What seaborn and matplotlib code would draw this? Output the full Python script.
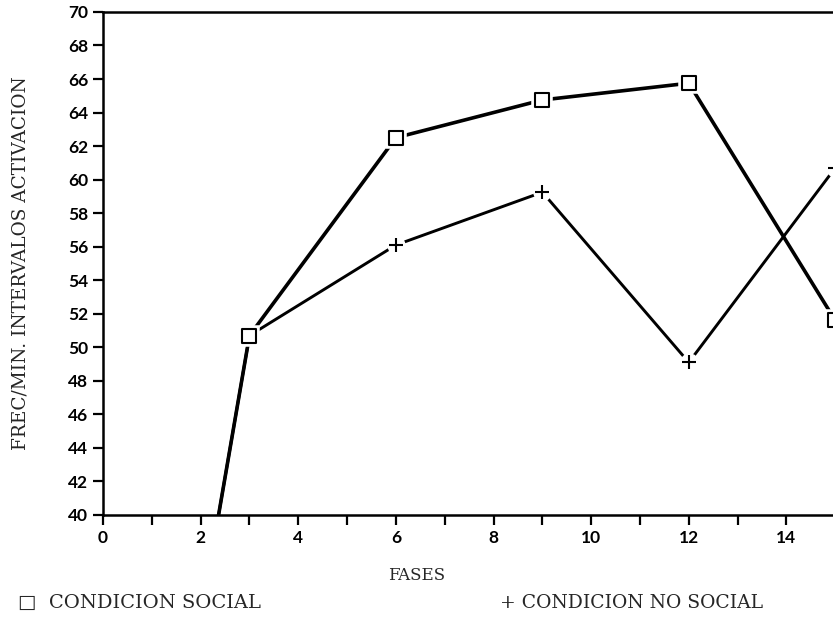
import pandas as pd
import matplotlib.pyplot as plt
import seaborn as sns

# Datos
fases = [0, 3, 6, 9, 12, 15]
social = [0, 50.7, 62.5, 64.75, 65.75, 51.6]
no_social = [0, 50.7, 56.1, 59.25, 49.1, 60.7]
series = ['CONDICION SOCIAL', 'CONDICION NO SOCIAL']

df = pd.DataFrame({
    'fase': fases * 2,
    'valor': social + no_social,
    'serie': [series[0]] * len(fases) + [series[1]] * len(fases),
})

sns.set_style('ticks')
serif = ['DejaVu Serif', 'DejaVu Sans']

fig = plt.figure(figsize=(8.33, 6.18), dpi=100)
ax = fig.add_axes([0.1237, 0.1667, 0.9376, 0.814])

# Lineas
sns.lineplot(data=df[df['serie'] == series[0]], x='fase', y='valor', ax=ax,
             color='black', linewidth=2.6, legend=False)
sns.lineplot(data=df[df['serie'] == series[1]], x='fase', y='valor', ax=ax,
             color='black', linewidth=2.1, legend=False)

# Hueco blanco alrededor de los marcadores
sns.scatterplot(data=df[df['serie'] == series[1]], x='fase', y='valor', ax=ax,
                marker='o', s=150, color='white', edgecolor='white', legend=False, zorder=3)
sns.scatterplot(data=df[df['serie'] == series[0]], x='fase', y='valor', ax=ax,
                marker='s', s=190, color='white', edgecolor='white', legend=False, zorder=3)
# Marcadores
sns.scatterplot(data=df[df['serie'] == series[1]], x='fase', y='valor', ax=ax,
                marker='+', s=100, color='black', linewidth=1.5, legend=False, zorder=4)
sns.scatterplot(data=df[df['serie'] == series[0]], x='fase', y='valor', ax=ax,
                marker='s', s=100, facecolor='white', edgecolor='black', linewidth=1.5,
                legend=False, zorder=4)

ax.set_xlim(0, 16)
ax.set_ylim(40, 70)
ax.set_xticks(range(0, 15, 2))
ax.set_xticks(range(1, 16, 2), minor=True)
ax.set_yticks(range(40, 71, 2))
ax.tick_params(axis='both', which='both', direction='out', length=7, width=1.6,
               labelsize=12.5, colors='black')
for lab in ax.get_xticklabels() + ax.get_yticklabels():
    lab.set_fontweight('bold')
    lab.set_family('Lato')

for s in ['left', 'bottom', 'top']:
    ax.spines[s].set_linewidth(1.8)
    ax.spines[s].set_color('black')
ax.spines['right'].set_visible(False)

ax.set_xlabel('')
ax.set_ylabel('FREC/MIN. INTERVALOS ACTIVACION', family=serif, fontsize=13.3)
ax.yaxis.set_label_coords(-0.094, 0.5)

fig.text(417 / 833, 1 - 575 / 618, 'FASES', family=serif, fontsize=12,
         ha='center', va='center')
fig.text(18 / 833, 1 - 603 / 618, '\u25a1  CONDICION SOCIAL', family=serif,
         fontsize=14, ha='left', va='center')
fig.text(500 / 833, 1 - 603 / 618, '+ CONDICION NO SOCIAL', family=serif,
         fontsize=13.5, ha='left', va='center')

plt.savefig('out.png', dpi=100)
